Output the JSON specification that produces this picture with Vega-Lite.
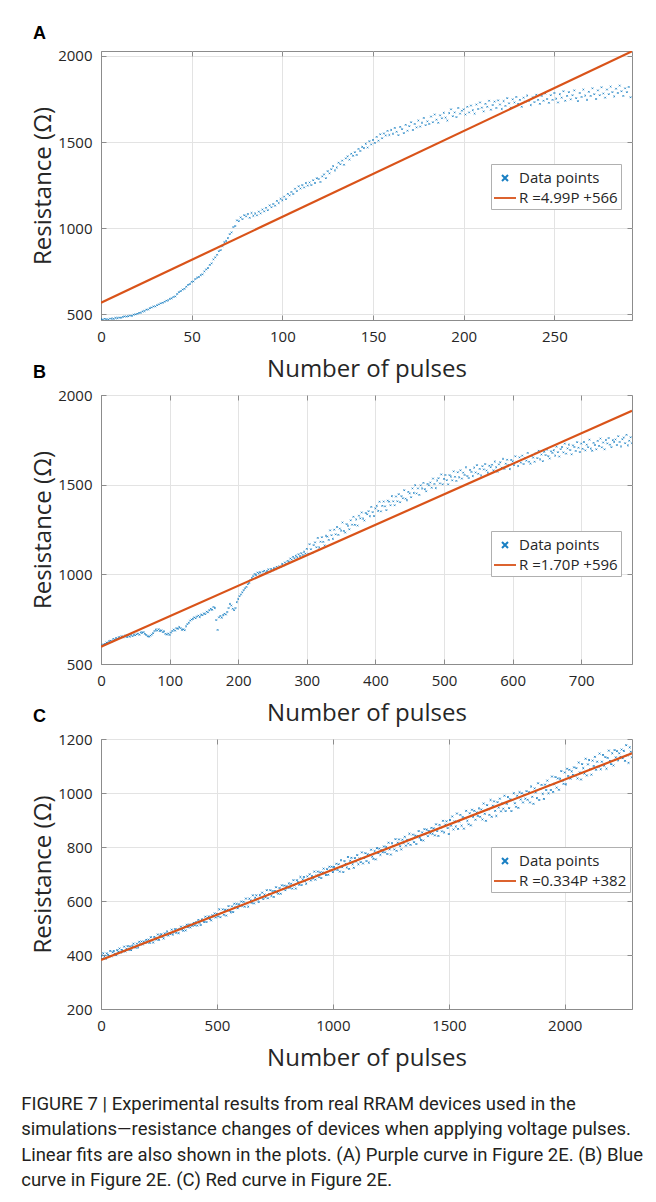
{
  "$schema": "https://vega.github.io/schema/vega-lite/v6.json",
  "background": "white",
  "padding": {"left": 21, "top": 24, "right": 5, "bottom": 5},
  "spacing": 75,
  "bounds": "flush",
  "resolve": {
    "scale": {"color": "independent", "shape": "independent"},
    "legend": {"color": "independent", "shape": "independent"}
  },
  "config": {
    "font": "Open Sans",
    "view": {"stroke": "#8c8c8c", "strokeWidth": 1},
    "axis": {
      "gridColor": "#e3e3e3", "gridWidth": 1,
      "domainColor": "#8c8c8c", "tickColor": "#8c8c8c",
      "labelColor": "#262626", "titleColor": "#262626",
      "labelFont": "Open Sans", "titleFont": "Open Sans",
      "labelFontSize": 15, "titleFontSize": 24, "titleFontWeight": "normal",
      "tickSize": -5, "labelFlush": false, "labelOverlap": false, "format": "d"
    },
    "axisX": {"labelPadding": 14, "titlePadding": 13},
    "axisY": {"labelPadding": 14, "titlePadding": 2},
    "legend": {
      "orient": "none", "fillColor": "white", "strokeColor": "#b0b0b0",
      "padding": 3, "symbolSize": 400, "symbolStrokeWidth": 2,
      "labelFont": "Open Sans", "labelFontSize": 15, "labelColor": "#262626",
      "rowPadding": 1, "labelOffset": 3
    },
    "title": {"font": "Liberation Sans", "fontSize": 18, "fontWeight": "bold", "color": "#000000"}
  },
  "title": {
    "text": [
      "FIGURE 7 | Experimental results from real RRAM devices used in the",
      "simulations—resistance changes of devices when applying voltage pulses.",
      "Linear fits are also shown in the plots. (A) Purple curve in Figure 2E. (B) Blue",
      "curve in Figure 2E. (C) Red curve in Figure 2E."
    ],
    "orient": "bottom", "anchor": "start", "frame": "bounds", "dx": -10,
    "font": "Roboto", "fontSize": 18.5, "fontWeight": "normal",
    "lineHeight": 25.5, "offset": 24, "color": "#231f20"
  },
  "datasets": {
    "a": [
      {"p":0,"r":471},{"p":1,"r":469},{"p":2,"r":473},{"p":3,"r":471},{"p":4,"r":469},{"p":5,"r":474},{"p":6,"r":474},{"p":7,"r":473},{"p":8,"r":478},{"p":9,"r":477},
      {"p":10,"r":480},{"p":11,"r":479},{"p":12,"r":484},{"p":13,"r":487},{"p":14,"r":486},{"p":15,"r":488},{"p":16,"r":492},{"p":17,"r":490},{"p":18,"r":497},{"p":19,"r":499},
      {"p":20,"r":502},{"p":21,"r":507},{"p":22,"r":509},{"p":23,"r":516},{"p":24,"r":518},{"p":25,"r":526},{"p":26,"r":527},{"p":27,"r":535},{"p":28,"r":539},{"p":29,"r":545},
      {"p":30,"r":545},{"p":31,"r":552},{"p":32,"r":557},{"p":33,"r":563},{"p":34,"r":566},{"p":35,"r":572},{"p":36,"r":578},{"p":37,"r":580},{"p":38,"r":589},{"p":39,"r":592},
      {"p":40,"r":600},{"p":41,"r":603},{"p":42,"r":617},{"p":43,"r":628},{"p":44,"r":634},{"p":45,"r":643},{"p":46,"r":647},{"p":47,"r":659},{"p":48,"r":670},{"p":49,"r":675},
      {"p":50,"r":688},{"p":51,"r":690},{"p":52,"r":704},{"p":53,"r":712},{"p":54,"r":716},{"p":55,"r":727},{"p":56,"r":731},{"p":57,"r":748},{"p":58,"r":760},{"p":59,"r":768},
      {"p":60,"r":786},{"p":61,"r":795},{"p":62,"r":818},{"p":63,"r":830},{"p":64,"r":845},{"p":65,"r":866},{"p":66,"r":872},{"p":67,"r":896},{"p":68,"r":918},{"p":69,"r":925},
      {"p":70,"r":942},{"p":71,"r":965},{"p":72,"r":975},{"p":73,"r":1006},{"p":74,"r":1012},{"p":75,"r":1045},{"p":76,"r":1040},{"p":77,"r":1062},{"p":78,"r":1052},{"p":79,"r":1075},
      {"p":80,"r":1068},{"p":81,"r":1082},{"p":82,"r":1060},{"p":83,"r":1088},{"p":84,"r":1071},{"p":85,"r":1085},{"p":86,"r":1074},{"p":87,"r":1096},{"p":88,"r":1085},{"p":89,"r":1108},
      {"p":90,"r":1097},{"p":91,"r":1118},{"p":92,"r":1104},{"p":93,"r":1132},{"p":94,"r":1121},{"p":95,"r":1140},{"p":96,"r":1130},{"p":97,"r":1158},{"p":98,"r":1146},{"p":99,"r":1170},
      {"p":100,"r":1162},{"p":101,"r":1183},{"p":102,"r":1168},{"p":103,"r":1199},{"p":104,"r":1190},{"p":105,"r":1210},{"p":106,"r":1198},{"p":107,"r":1229},{"p":108,"r":1215},{"p":109,"r":1243},
      {"p":110,"r":1230},{"p":111,"r":1250},{"p":112,"r":1236},{"p":113,"r":1262},{"p":114,"r":1247},{"p":115,"r":1265},{"p":116,"r":1250},{"p":117,"r":1278},{"p":118,"r":1262},{"p":119,"r":1290},
      {"p":120,"r":1285},{"p":121,"r":1268},{"p":122,"r":1300},{"p":123,"r":1312},{"p":124,"r":1290},{"p":125,"r":1331},{"p":126,"r":1318},{"p":127,"r":1342},{"p":128,"r":1360},{"p":129,"r":1335},
      {"p":130,"r":1352},{"p":131,"r":1380},{"p":132,"r":1371},{"p":133,"r":1392},{"p":134,"r":1368},{"p":135,"r":1405},{"p":136,"r":1417},{"p":137,"r":1398},{"p":138,"r":1432},{"p":139,"r":1420},
      {"p":140,"r":1441},{"p":141,"r":1425},{"p":142,"r":1460},{"p":143,"r":1448},{"p":144,"r":1472},{"p":145,"r":1465},{"p":146,"r":1490},{"p":147,"r":1468},{"p":148,"r":1505},{"p":149,"r":1486},
      {"p":150,"r":1512},{"p":151,"r":1495},{"p":152,"r":1530},{"p":153,"r":1508},{"p":154,"r":1545},{"p":155,"r":1522},{"p":156,"r":1550},{"p":157,"r":1538},{"p":158,"r":1565},{"p":159,"r":1541},
      {"p":160,"r":1570},{"p":161,"r":1548},{"p":162,"r":1582},{"p":163,"r":1560},{"p":164,"r":1540},{"p":165,"r":1588},{"p":166,"r":1575},{"p":167,"r":1552},{"p":168,"r":1600},{"p":169,"r":1566},
      {"p":170,"r":1592},{"p":171,"r":1615},{"p":172,"r":1570},{"p":173,"r":1605},{"p":174,"r":1585},{"p":175,"r":1625},{"p":176,"r":1590},{"p":177,"r":1612},{"p":178,"r":1640},{"p":179,"r":1598},
      {"p":180,"r":1620},{"p":181,"r":1605},{"p":182,"r":1648},{"p":183,"r":1615},{"p":184,"r":1660},{"p":185,"r":1630},{"p":186,"r":1612},{"p":187,"r":1655},{"p":188,"r":1638},{"p":189,"r":1670},
      {"p":190,"r":1642},{"p":191,"r":1625},{"p":192,"r":1668},{"p":193,"r":1690},{"p":194,"r":1650},{"p":195,"r":1672},{"p":196,"r":1645},{"p":197,"r":1698},{"p":198,"r":1665},{"p":199,"r":1682},
      {"p":200,"r":1690},{"p":201,"r":1660},{"p":202,"r":1705},{"p":203,"r":1672},{"p":204,"r":1712},{"p":205,"r":1685},{"p":206,"r":1665},{"p":207,"r":1718},{"p":208,"r":1692},{"p":209,"r":1730},
      {"p":210,"r":1700},{"p":211,"r":1678},{"p":212,"r":1722},{"p":213,"r":1705},{"p":214,"r":1740},{"p":215,"r":1688},{"p":216,"r":1715},{"p":217,"r":1735},{"p":218,"r":1698},{"p":219,"r":1742},
      {"p":220,"r":1718},{"p":221,"r":1692},{"p":222,"r":1738},{"p":223,"r":1710},{"p":224,"r":1755},{"p":225,"r":1725},{"p":226,"r":1700},{"p":227,"r":1748},{"p":228,"r":1730},{"p":229,"r":1762},
      {"p":230,"r":1722},{"p":231,"r":1745},{"p":232,"r":1705},{"p":233,"r":1758},{"p":234,"r":1735},{"p":235,"r":1770},{"p":236,"r":1740},{"p":237,"r":1715},{"p":238,"r":1760},{"p":239,"r":1732},
      {"p":240,"r":1775},{"p":241,"r":1745},{"p":242,"r":1722},{"p":243,"r":1768},{"p":244,"r":1740},{"p":245,"r":1782},{"p":246,"r":1750},{"p":247,"r":1728},{"p":248,"r":1772},{"p":249,"r":1745},
      {"p":250,"r":1785},{"p":251,"r":1752},{"p":252,"r":1730},{"p":253,"r":1778},{"p":254,"r":1758},{"p":255,"r":1795},{"p":256,"r":1740},{"p":257,"r":1768},{"p":258,"r":1790},{"p":259,"r":1748},
      {"p":260,"r":1772},{"p":261,"r":1800},{"p":262,"r":1755},{"p":263,"r":1738},{"p":264,"r":1785},{"p":265,"r":1762},{"p":266,"r":1805},{"p":267,"r":1770},{"p":268,"r":1745},{"p":269,"r":1792},
      {"p":270,"r":1768},{"p":271,"r":1812},{"p":272,"r":1778},{"p":273,"r":1750},{"p":274,"r":1800},{"p":275,"r":1772},{"p":276,"r":1818},{"p":277,"r":1782},{"p":278,"r":1758},{"p":279,"r":1805},
      {"p":280,"r":1778},{"p":281,"r":1822},{"p":282,"r":1790},{"p":283,"r":1765},{"p":284,"r":1810},{"p":285,"r":1785},{"p":286,"r":1828},{"p":287,"r":1795},{"p":288,"r":1768},{"p":289,"r":1812},
      {"p":290,"r":1790},{"p":291,"r":1820},{"p":292,"r":1760}
    ],
    "b": [
      {"p":0,"r":598},{"p":2,"r":606},{"p":4,"r":610},{"p":6,"r":612},{"p":8,"r":620},{"p":10,"r":618},{"p":12,"r":628},{"p":14,"r":630},{"p":16,"r":626},{"p":18,"r":640},
      {"p":20,"r":636},{"p":22,"r":645},{"p":24,"r":641},{"p":26,"r":650},{"p":28,"r":646},{"p":30,"r":655},{"p":32,"r":648},{"p":34,"r":652},{"p":36,"r":660},{"p":38,"r":650},
      {"p":40,"r":657},{"p":42,"r":652},{"p":44,"r":662},{"p":46,"r":655},{"p":48,"r":664},{"p":50,"r":660},{"p":52,"r":666},{"p":54,"r":670},{"p":56,"r":663},{"p":58,"r":676},
      {"p":60,"r":674},{"p":62,"r":678},{"p":64,"r":668},{"p":66,"r":662},{"p":68,"r":655},{"p":70,"r":652},{"p":72,"r":658},{"p":74,"r":664},{"p":76,"r":672},{"p":78,"r":684},
      {"p":80,"r":692},{"p":82,"r":686},{"p":84,"r":694},{"p":86,"r":684},{"p":88,"r":688},{"p":90,"r":678},{"p":92,"r":682},{"p":94,"r":668},{"p":96,"r":664},{"p":98,"r":670},
      {"p":100,"r":662},{"p":102,"r":675},{"p":104,"r":684},{"p":106,"r":692},{"p":108,"r":686},{"p":110,"r":700},{"p":112,"r":696},{"p":114,"r":706},{"p":116,"r":700},{"p":118,"r":690},
      {"p":120,"r":694},{"p":122,"r":688},{"p":124,"r":710},{"p":126,"r":722},{"p":128,"r":730},{"p":130,"r":742},{"p":132,"r":748},{"p":134,"r":752},{"p":136,"r":760},{"p":138,"r":755},
      {"p":140,"r":765},{"p":142,"r":770},{"p":144,"r":762},{"p":146,"r":775},{"p":148,"r":772},{"p":150,"r":782},{"p":152,"r":778},{"p":154,"r":792},{"p":156,"r":788},{"p":158,"r":800},
      {"p":160,"r":808},{"p":162,"r":802},{"p":164,"r":818},{"p":166,"r":812},{"p":168,"r":745},{"p":170,"r":690},{"p":172,"r":760},{"p":174,"r":768},{"p":176,"r":758},{"p":178,"r":772},
      {"p":180,"r":780},{"p":182,"r":776},{"p":184,"r":790},{"p":186,"r":812},{"p":188,"r":835},{"p":190,"r":826},{"p":192,"r":808},{"p":194,"r":800},{"p":196,"r":812},{"p":198,"r":845},
      {"p":200,"r":862},{"p":202,"r":878},{"p":204,"r":888},{"p":206,"r":900},{"p":208,"r":912},{"p":210,"r":922},{"p":212,"r":930},{"p":214,"r":945},{"p":216,"r":952},{"p":218,"r":968},
      {"p":220,"r":980},{"p":222,"r":990},{"p":224,"r":1002},{"p":226,"r":996},{"p":228,"r":1010},{"p":230,"r":1005},{"p":232,"r":1012},{"p":234,"r":1000},{"p":236,"r":1015},{"p":238,"r":1020},
      {"p":240,"r":1010},{"p":242,"r":1018},{"p":244,"r":1028},{"p":246,"r":1015},{"p":248,"r":1030},{"p":250,"r":1022},{"p":252,"r":1035},{"p":254,"r":1028},{"p":256,"r":1042},{"p":258,"r":1036},
      {"p":260,"r":1045},{"p":262,"r":1040},{"p":264,"r":1058},{"p":266,"r":1050},{"p":268,"r":1066},{"p":270,"r":1060},{"p":272,"r":1075},{"p":274,"r":1070},{"p":276,"r":1088},{"p":278,"r":1082},
      {"p":280,"r":1098},{"p":282,"r":1090},{"p":284,"r":1104},{"p":286,"r":1095},{"p":288,"r":1112},{"p":290,"r":1102},{"p":292,"r":1118},{"p":294,"r":1108},{"p":296,"r":1126},{"p":298,"r":1115},
      {"p":300,"r":1142},{"p":302,"r":1115},{"p":304,"r":1168},{"p":306,"r":1140},{"p":308,"r":1119},{"p":310,"r":1163},{"p":312,"r":1178},{"p":314,"r":1151},{"p":316,"r":1203},{"p":318,"r":1150},
      {"p":320,"r":1182},{"p":322,"r":1207},{"p":324,"r":1181},{"p":326,"r":1161},{"p":328,"r":1215},{"p":330,"r":1210},{"p":332,"r":1192},{"p":334,"r":1245},{"p":336,"r":1218},{"p":338,"r":1198},
      {"p":340,"r":1249},{"p":342,"r":1223},{"p":344,"r":1264},{"p":346,"r":1220},{"p":348,"r":1255},{"p":350,"r":1244},{"p":352,"r":1289},{"p":354,"r":1242},{"p":356,"r":1233},{"p":358,"r":1280},
      {"p":360,"r":1271},{"p":362,"r":1251},{"p":364,"r":1301},{"p":366,"r":1277},{"p":368,"r":1321},{"p":370,"r":1276},{"p":372,"r":1306},{"p":374,"r":1272},{"p":376,"r":1327},{"p":378,"r":1312},
      {"p":380,"r":1345},{"p":382,"r":1311},{"p":384,"r":1300},{"p":386,"r":1342},{"p":388,"r":1335},{"p":390,"r":1352},{"p":392,"r":1324},{"p":394,"r":1376},{"p":396,"r":1347},{"p":398,"r":1325},
      {"p":400,"r":1368},{"p":402,"r":1382},{"p":404,"r":1354},{"p":406,"r":1405},{"p":408,"r":1351},{"p":410,"r":1382},{"p":412,"r":1406},{"p":414,"r":1379},{"p":416,"r":1358},{"p":418,"r":1411},
      {"p":420,"r":1405},{"p":422,"r":1385},{"p":424,"r":1436},{"p":426,"r":1407},{"p":428,"r":1385},{"p":430,"r":1434},{"p":432,"r":1407},{"p":434,"r":1447},{"p":436,"r":1402},{"p":438,"r":1436},
      {"p":440,"r":1424},{"p":442,"r":1469},{"p":444,"r":1422},{"p":446,"r":1413},{"p":448,"r":1460},{"p":450,"r":1451},{"p":452,"r":1430},{"p":454,"r":1479},{"p":456,"r":1454},{"p":458,"r":1497},
      {"p":460,"r":1451},{"p":462,"r":1479},{"p":464,"r":1443},{"p":466,"r":1496},{"p":468,"r":1479},{"p":470,"r":1510},{"p":472,"r":1475},{"p":474,"r":1463},{"p":476,"r":1504},{"p":478,"r":1496},
      {"p":480,"r":1512},{"p":482,"r":1483},{"p":484,"r":1534},{"p":486,"r":1504},{"p":488,"r":1481},{"p":490,"r":1523},{"p":492,"r":1536},{"p":494,"r":1507},{"p":496,"r":1557},{"p":498,"r":1502},
      {"p":500,"r":1532},{"p":502,"r":1554},{"p":504,"r":1525},{"p":506,"r":1502},{"p":508,"r":1553},{"p":510,"r":1545},{"p":512,"r":1524},{"p":514,"r":1574},{"p":516,"r":1544},{"p":518,"r":1521},
      {"p":520,"r":1569},{"p":522,"r":1541},{"p":524,"r":1580},{"p":526,"r":1534},{"p":528,"r":1567},{"p":530,"r":1554},{"p":532,"r":1597},{"p":534,"r":1548},{"p":536,"r":1537},{"p":538,"r":1582},
      {"p":540,"r":1571},{"p":542,"r":1548},{"p":544,"r":1595},{"p":546,"r":1568},{"p":548,"r":1609},{"p":550,"r":1561},{"p":552,"r":1588},{"p":554,"r":1551},{"p":556,"r":1603},{"p":558,"r":1585},
      {"p":560,"r":1615},{"p":562,"r":1579},{"p":564,"r":1566},{"p":566,"r":1606},{"p":568,"r":1597},{"p":570,"r":1611},{"p":572,"r":1580},{"p":574,"r":1629},{"p":576,"r":1597},{"p":578,"r":1572},
      {"p":580,"r":1613},{"p":582,"r":1625},{"p":584,"r":1595},{"p":586,"r":1644},{"p":588,"r":1588},{"p":590,"r":1617},{"p":592,"r":1639},{"p":594,"r":1610},{"p":596,"r":1587},{"p":598,"r":1638},
      {"p":600,"r":1630},{"p":602,"r":1609},{"p":604,"r":1658},{"p":606,"r":1628},{"p":608,"r":1604},{"p":610,"r":1652},{"p":612,"r":1623},{"p":614,"r":1662},{"p":616,"r":1615},{"p":618,"r":1648},
      {"p":620,"r":1634},{"p":622,"r":1677},{"p":624,"r":1628},{"p":626,"r":1617},{"p":628,"r":1662},{"p":630,"r":1651},{"p":632,"r":1628},{"p":634,"r":1675},{"p":636,"r":1648},{"p":638,"r":1689},
      {"p":640,"r":1641},{"p":642,"r":1668},{"p":644,"r":1631},{"p":646,"r":1683},{"p":648,"r":1665},{"p":650,"r":1695},{"p":652,"r":1659},{"p":654,"r":1646},{"p":656,"r":1686},{"p":658,"r":1677},
      {"p":660,"r":1692},{"p":662,"r":1662},{"p":664,"r":1712},{"p":666,"r":1681},{"p":668,"r":1657},{"p":670,"r":1698},{"p":672,"r":1710},{"p":674,"r":1680},{"p":676,"r":1729},{"p":678,"r":1673},
      {"p":680,"r":1702},{"p":682,"r":1723},{"p":684,"r":1693},{"p":686,"r":1669},{"p":688,"r":1719},{"p":690,"r":1710},{"p":692,"r":1688},{"p":694,"r":1737},{"p":696,"r":1706},{"p":698,"r":1682},
      {"p":700,"r":1729},{"p":702,"r":1700},{"p":704,"r":1738},{"p":706,"r":1691},{"p":708,"r":1723},{"p":710,"r":1709},{"p":712,"r":1751},{"p":714,"r":1701},{"p":716,"r":1689},{"p":718,"r":1733},
      {"p":720,"r":1721},{"p":722,"r":1697},{"p":724,"r":1744},{"p":726,"r":1716},{"p":728,"r":1757},{"p":730,"r":1708},{"p":732,"r":1735},{"p":734,"r":1697},{"p":736,"r":1749},{"p":738,"r":1730},
      {"p":740,"r":1760},{"p":742,"r":1723},{"p":744,"r":1709},{"p":746,"r":1748},{"p":748,"r":1738},{"p":750,"r":1752},{"p":752,"r":1721},{"p":754,"r":1770},{"p":756,"r":1738},{"p":758,"r":1713},
      {"p":760,"r":1753},{"p":762,"r":1763},{"p":764,"r":1731},{"p":766,"r":1778},{"p":768,"r":1719},{"p":770,"r":1745},{"p":772,"r":1764},{"p":774,"r":1731}
    ],
    "c": [
      {"p":0,"r":397},{"p":5,"r":385},{"p":10,"r":406},{"p":15,"r":394},{"p":20,"r":386},{"p":25,"r":406},{"p":30,"r":401},{"p":35,"r":396},{"p":40,"r":415},{"p":45,"r":395},
      {"p":50,"r":410},{"p":55,"r":415},{"p":60,"r":405},{"p":65,"r":399},{"p":70,"r":418},{"p":75,"r":412},{"p":80,"r":424},{"p":85,"r":409},{"p":90,"r":419},{"p":95,"r":414},
      {"p":100,"r":431},{"p":105,"r":413},{"p":110,"r":423},{"p":115,"r":433},{"p":120,"r":419},{"p":125,"r":432},{"p":130,"r":418},{"p":135,"r":433},{"p":140,"r":442},{"p":145,"r":431},
      {"p":150,"r":427},{"p":155,"r":442},{"p":160,"r":428},{"p":165,"r":449},{"p":170,"r":440},{"p":175,"r":450},{"p":180,"r":439},{"p":185,"r":449},{"p":190,"r":445},{"p":195,"r":456},
      {"p":200,"r":446},{"p":205,"r":457},{"p":210,"r":445},{"p":215,"r":466},{"p":220,"r":454},{"p":225,"r":446},{"p":230,"r":467},{"p":235,"r":462},{"p":240,"r":457},{"p":245,"r":476},
      {"p":250,"r":456},{"p":255,"r":472},{"p":260,"r":477},{"p":265,"r":467},{"p":270,"r":461},{"p":275,"r":480},{"p":280,"r":475},{"p":285,"r":487},{"p":290,"r":472},{"p":295,"r":482},
      {"p":300,"r":477},{"p":305,"r":494},{"p":310,"r":476},{"p":315,"r":486},{"p":320,"r":496},{"p":325,"r":482},{"p":330,"r":495},{"p":335,"r":481},{"p":340,"r":496},{"p":345,"r":505},
      {"p":350,"r":494},{"p":355,"r":490},{"p":360,"r":505},{"p":365,"r":491},{"p":370,"r":512},{"p":375,"r":503},{"p":380,"r":513},{"p":385,"r":502},{"p":390,"r":512},{"p":395,"r":508},
      {"p":400,"r":519},{"p":405,"r":510},{"p":410,"r":521},{"p":415,"r":509},{"p":420,"r":530},{"p":425,"r":519},{"p":430,"r":511},{"p":435,"r":532},{"p":440,"r":527},{"p":445,"r":522},
      {"p":450,"r":542},{"p":455,"r":522},{"p":460,"r":538},{"p":465,"r":543},{"p":470,"r":533},{"p":475,"r":528},{"p":480,"r":547},{"p":485,"r":542},{"p":490,"r":554},{"p":495,"r":539},
      {"p":500,"r":552},{"p":505,"r":543},{"p":510,"r":569},{"p":515,"r":540},{"p":520,"r":555},{"p":525,"r":569},{"p":530,"r":549},{"p":535,"r":567},{"p":540,"r":546},{"p":545,"r":568},
      {"p":550,"r":581},{"p":555,"r":563},{"p":560,"r":558},{"p":565,"r":580},{"p":570,"r":559},{"p":575,"r":590},{"p":580,"r":577},{"p":585,"r":589},{"p":590,"r":573},{"p":595,"r":588},
      {"p":600,"r":582},{"p":605,"r":598},{"p":610,"r":582},{"p":615,"r":597},{"p":620,"r":579},{"p":625,"r":609},{"p":630,"r":591},{"p":635,"r":579},{"p":640,"r":609},{"p":645,"r":602},
      {"p":650,"r":593},{"p":655,"r":621},{"p":660,"r":591},{"p":665,"r":612},{"p":670,"r":621},{"p":675,"r":605},{"p":680,"r":596},{"p":685,"r":622},{"p":690,"r":613},{"p":695,"r":631},
      {"p":700,"r":607},{"p":705,"r":624},{"p":710,"r":614},{"p":715,"r":640},{"p":720,"r":610},{"p":725,"r":626},{"p":730,"r":640},{"p":735,"r":619},{"p":740,"r":637},{"p":745,"r":615},
      {"p":750,"r":637},{"p":755,"r":651},{"p":760,"r":632},{"p":765,"r":627},{"p":770,"r":648},{"p":775,"r":627},{"p":780,"r":658},{"p":785,"r":644},{"p":790,"r":657},{"p":795,"r":640},
      {"p":800,"r":655},{"p":805,"r":649},{"p":810,"r":665},{"p":815,"r":649},{"p":820,"r":664},{"p":825,"r":646},{"p":830,"r":677},{"p":835,"r":658},{"p":840,"r":646},{"p":845,"r":677},
      {"p":850,"r":670},{"p":855,"r":660},{"p":860,"r":689},{"p":865,"r":659},{"p":870,"r":680},{"p":875,"r":689},{"p":880,"r":673},{"p":885,"r":664},{"p":890,"r":691},{"p":895,"r":681},
      {"p":900,"r":699},{"p":905,"r":676},{"p":910,"r":692},{"p":915,"r":683},{"p":920,"r":709},{"p":925,"r":679},{"p":930,"r":695},{"p":935,"r":709},{"p":940,"r":688},{"p":945,"r":706},
      {"p":950,"r":685},{"p":955,"r":706},{"p":960,"r":720},{"p":965,"r":702},{"p":970,"r":696},{"p":975,"r":718},{"p":980,"r":697},{"p":985,"r":727},{"p":990,"r":714},{"p":995,"r":727},
      {"p":1000,"r":707},{"p":1005,"r":726},{"p":1010,"r":717},{"p":1015,"r":738},{"p":1020,"r":715},{"p":1025,"r":736},{"p":1030,"r":709},{"p":1035,"r":751},{"p":1040,"r":725},{"p":1045,"r":707},
      {"p":1050,"r":748},{"p":1055,"r":738},{"p":1060,"r":724},{"p":1065,"r":763},{"p":1070,"r":719},{"p":1075,"r":749},{"p":1080,"r":760},{"p":1085,"r":736},{"p":1090,"r":723},{"p":1095,"r":759},
      {"p":1100,"r":746},{"p":1105,"r":770},{"p":1110,"r":736},{"p":1115,"r":758},{"p":1120,"r":744},{"p":1125,"r":780},{"p":1130,"r":739},{"p":1135,"r":759},{"p":1140,"r":777},{"p":1145,"r":748},
      {"p":1150,"r":773},{"p":1155,"r":742},{"p":1160,"r":771},{"p":1165,"r":790},{"p":1170,"r":764},{"p":1175,"r":756},{"p":1180,"r":785},{"p":1185,"r":754},{"p":1190,"r":796},{"p":1195,"r":777},
      {"p":1200,"r":794},{"p":1205,"r":771},{"p":1210,"r":789},{"p":1215,"r":781},{"p":1220,"r":802},{"p":1225,"r":780},{"p":1230,"r":800},{"p":1235,"r":774},{"p":1240,"r":816},{"p":1245,"r":791},
      {"p":1250,"r":772},{"p":1255,"r":814},{"p":1260,"r":804},{"p":1265,"r":791},{"p":1270,"r":829},{"p":1275,"r":786},{"p":1280,"r":816},{"p":1285,"r":828},{"p":1290,"r":803},{"p":1295,"r":791},
      {"p":1300,"r":827},{"p":1305,"r":815},{"p":1310,"r":838},{"p":1315,"r":805},{"p":1320,"r":827},{"p":1325,"r":813},{"p":1330,"r":849},{"p":1335,"r":808},{"p":1340,"r":828},{"p":1345,"r":846},
      {"p":1350,"r":818},{"p":1355,"r":842},{"p":1360,"r":811},{"p":1365,"r":841},{"p":1370,"r":859},{"p":1375,"r":834},{"p":1380,"r":826},{"p":1385,"r":854},{"p":1390,"r":824},{"p":1395,"r":866},
      {"p":1400,"r":847},{"p":1405,"r":864},{"p":1410,"r":840},{"p":1415,"r":859},{"p":1420,"r":850},{"p":1425,"r":871},{"p":1430,"r":849},{"p":1435,"r":869},{"p":1440,"r":843},{"p":1445,"r":884},
      {"p":1450,"r":859},{"p":1455,"r":841},{"p":1460,"r":882},{"p":1465,"r":872},{"p":1470,"r":858},{"p":1475,"r":897},{"p":1480,"r":854},{"p":1485,"r":883},{"p":1490,"r":895},{"p":1495,"r":870},
      {"p":1500,"r":848},{"p":1505,"r":900},{"p":1510,"r":879},{"p":1515,"r":913},{"p":1520,"r":865},{"p":1525,"r":895},{"p":1530,"r":876},{"p":1535,"r":924},{"p":1540,"r":867},{"p":1545,"r":894},
      {"p":1550,"r":919},{"p":1555,"r":879},{"p":1560,"r":911},{"p":1565,"r":868},{"p":1570,"r":907},{"p":1575,"r":934},{"p":1580,"r":897},{"p":1585,"r":884},{"p":1590,"r":925},{"p":1595,"r":880},
      {"p":1600,"r":938},{"p":1605,"r":912},{"p":1610,"r":934},{"p":1615,"r":901},{"p":1620,"r":928},{"p":1625,"r":915},{"p":1630,"r":943},{"p":1635,"r":912},{"p":1640,"r":939},{"p":1645,"r":902},
      {"p":1650,"r":961},{"p":1655,"r":923},{"p":1660,"r":897},{"p":1665,"r":955},{"p":1670,"r":939},{"p":1675,"r":919},{"p":1680,"r":974},{"p":1685,"r":912},{"p":1690,"r":953},{"p":1695,"r":969},
      {"p":1700,"r":934},{"p":1705,"r":915},{"p":1710,"r":966},{"p":1715,"r":946},{"p":1720,"r":979},{"p":1725,"r":932},{"p":1730,"r":961},{"p":1735,"r":942},{"p":1740,"r":990},{"p":1745,"r":933},
      {"p":1750,"r":960},{"p":1755,"r":985},{"p":1760,"r":944},{"p":1765,"r":977},{"p":1770,"r":933},{"p":1775,"r":973},{"p":1780,"r":999},{"p":1785,"r":962},{"p":1790,"r":949},{"p":1795,"r":990},
      {"p":1800,"r":945},{"p":1805,"r":1003},{"p":1810,"r":976},{"p":1815,"r":999},{"p":1820,"r":965},{"p":1825,"r":992},{"p":1830,"r":979},{"p":1835,"r":1007},{"p":1840,"r":975},{"p":1845,"r":1003},
      {"p":1850,"r":965},{"p":1855,"r":1024},{"p":1860,"r":986},{"p":1865,"r":960},{"p":1870,"r":1017},{"p":1875,"r":1002},{"p":1880,"r":981},{"p":1885,"r":1036},{"p":1890,"r":974},{"p":1895,"r":1015},
      {"p":1900,"r":1030},{"p":1905,"r":997},{"p":1910,"r":978},{"p":1915,"r":1031},{"p":1920,"r":1011},{"p":1925,"r":1046},{"p":1930,"r":999},{"p":1935,"r":1030},{"p":1940,"r":1011},{"p":1945,"r":1061},
      {"p":1950,"r":1004},{"p":1955,"r":1033},{"p":1960,"r":1059},{"p":1965,"r":1020},{"p":1970,"r":1054},{"p":1975,"r":1012},{"p":1980,"r":1053},{"p":1985,"r":1081},{"p":1990,"r":1045},{"p":1995,"r":1034},
      {"p":2000,"r":1076},{"p":2005,"r":1032},{"p":2010,"r":1090},{"p":2015,"r":1063},{"p":2020,"r":1086},{"p":2025,"r":1053},{"p":2030,"r":1080},{"p":2035,"r":1067},{"p":2040,"r":1095},{"p":2045,"r":1064},
      {"p":2050,"r":1092},{"p":2055,"r":1054},{"p":2060,"r":1113},{"p":2065,"r":1076},{"p":2070,"r":1050},{"p":2075,"r":1107},{"p":2080,"r":1092},{"p":2085,"r":1072},{"p":2090,"r":1127},{"p":2095,"r":1065},
      {"p":2100,"r":1106},{"p":2105,"r":1122},{"p":2110,"r":1088},{"p":2115,"r":1068},{"p":2120,"r":1120},{"p":2125,"r":1100},{"p":2130,"r":1134},{"p":2135,"r":1086},{"p":2140,"r":1116},{"p":2145,"r":1097},
      {"p":2150,"r":1146},{"p":2155,"r":1088},{"p":2160,"r":1116},{"p":2165,"r":1141},{"p":2170,"r":1101},{"p":2175,"r":1133},{"p":2180,"r":1090},{"p":2185,"r":1130},{"p":2190,"r":1157},{"p":2195,"r":1119},
      {"p":2200,"r":1107},{"p":2205,"r":1147},{"p":2210,"r":1102},{"p":2215,"r":1159},{"p":2220,"r":1132},{"p":2225,"r":1155},{"p":2230,"r":1121},{"p":2235,"r":1147},{"p":2240,"r":1134},{"p":2245,"r":1161},
      {"p":2250,"r":1129},{"p":2255,"r":1156},{"p":2260,"r":1119},{"p":2265,"r":1177},{"p":2270,"r":1139},{"p":2275,"r":1112},{"p":2280,"r":1169},{"p":2285,"r":1153},{"p":2290,"r":1132}
    ]
  },
  "vconcat": [
    {
      "title": {"text": "A", "anchor": "start", "frame": "group", "dx": -68, "offset": 6},
      "width": 531, "height": 269,
      "resolve": {"axis": {"x": "independent", "y": "independent"}},
      "layer": [
        {
          "data": {"name": "a"},
          "mark": {"type": "point", "filled": false, "size": 30, "strokeWidth": 0.8, "opacity": 0.9, "clip": true},
          "encoding": {
            "x": {"field": "p", "type": "quantitative", "scale": {"domain": [0, 292.8], "nice": false, "zero": false},
                  "axis": {"values": [0, 50, 100, 150, 200, 250], "grid": true, "title": "Number of pulses"}},
            "y": {"field": "r", "type": "quantitative", "scale": {"domain": [466, 2029], "nice": false, "zero": false},
                  "axis": {"values": [500, 1000, 1500, 2000], "grid": true, "title": "Resistance (Ω)"}},
            "color": {"datum": "Data points", "type": "nominal",
                      "scale": {"domain": ["Data points", "R =4.99P +566"], "range": ["#0072bd", "#d95319"]},
                      "legend": {"title": null, "legendX": 390, "legendY": 113}},
            "shape": {"datum": "Data points", "type": "nominal",
                      "scale": {"domain": ["Data points", "R =4.99P +566"], "range": ["M-0.3,-0.3L0.3,0.3M-0.3,0.3L0.3,-0.3", "M-1.1,0L1.1,0"]},
                      "legend": {"title": null, "legendX": 390, "legendY": 113}}
          }
        },
        {
          "data": {"values": [{"p": 0, "r": 566}, {"p": 293, "r": 2028.1}]},
          "mark": {"type": "line", "strokeWidth": 2.2, "clip": true},
          "encoding": {
            "x": {"field": "p", "type": "quantitative", "axis": {"orient": "top", "values": [0, 50, 100, 150, 200, 250], "labels": false, "grid": false, "title": null, "domain": false}},
            "y": {"field": "r", "type": "quantitative", "axis": {"orient": "right", "values": [500, 1000, 1500, 2000], "labels": false, "grid": false, "title": null, "domain": false}},
            "color": {"datum": "R =4.99P +566", "type": "nominal"}
          }
        }
      ]
    },
    {
      "title": {"text": "B", "anchor": "start", "frame": "group", "dx": -68, "offset": 6},
      "width": 531, "height": 269,
      "resolve": {"axis": {"x": "independent", "y": "independent"}},
      "layer": [
        {
          "data": {"name": "b"},
          "mark": {"type": "point", "filled": false, "size": 30, "strokeWidth": 0.8, "opacity": 0.9, "clip": true},
          "encoding": {
            "x": {"field": "p", "type": "quantitative", "scale": {"domain": [0, 774], "nice": false, "zero": false},
                  "axis": {"values": [0, 100, 200, 300, 400, 500, 600, 700], "grid": true, "title": "Number of pulses"}},
            "y": {"field": "r", "type": "quantitative", "scale": {"domain": [500, 2000], "nice": false, "zero": false},
                  "axis": {"values": [500, 1000, 1500, 2000], "grid": true, "title": "Resistance (Ω)"}},
            "color": {"datum": "Data points", "type": "nominal",
                      "scale": {"domain": ["Data points", "R =1.70P +596"], "range": ["#0072bd", "#d95319"]},
                      "legend": {"title": null, "legendX": 390, "legendY": 136}},
            "shape": {"datum": "Data points", "type": "nominal",
                      "scale": {"domain": ["Data points", "R =1.70P +596"], "range": ["M-0.3,-0.3L0.3,0.3M-0.3,0.3L0.3,-0.3", "M-1.1,0L1.1,0"]},
                      "legend": {"title": null, "legendX": 390, "legendY": 136}}
          }
        },
        {
          "data": {"values": [{"p": 0, "r": 596}, {"p": 774, "r": 1911.8}]},
          "mark": {"type": "line", "strokeWidth": 2.2, "clip": true},
          "encoding": {
            "x": {"field": "p", "type": "quantitative", "axis": {"orient": "top", "values": [0, 100, 200, 300, 400, 500, 600, 700], "labels": false, "grid": false, "title": null, "domain": false}},
            "y": {"field": "r", "type": "quantitative", "axis": {"orient": "right", "values": [500, 1000, 1500, 2000], "labels": false, "grid": false, "title": null, "domain": false}},
            "color": {"datum": "R =1.70P +596", "type": "nominal"}
          }
        }
      ]
    },
    {
      "title": {"text": "C", "anchor": "start", "frame": "group", "dx": -68, "offset": 6},
      "width": 531, "height": 270,
      "resolve": {"axis": {"x": "independent", "y": "independent"}},
      "layer": [
        {
          "data": {"name": "c"},
          "mark": {"type": "point", "filled": false, "size": 36, "strokeWidth": 0.9, "opacity": 0.9, "clip": true},
          "encoding": {
            "x": {"field": "p", "type": "quantitative", "scale": {"domain": [0, 2290], "nice": false, "zero": false},
                  "axis": {"values": [0, 500, 1000, 1500, 2000], "grid": true, "title": "Number of pulses"}},
            "y": {"field": "r", "type": "quantitative", "scale": {"domain": [200, 1200], "nice": false, "zero": false},
                  "axis": {"values": [200, 400, 600, 800, 1000, 1200], "grid": true, "title": "Resistance (Ω)"}},
            "color": {"datum": "Data points", "type": "nominal",
                      "scale": {"domain": ["Data points", "R =0.334P +382"], "range": ["#0072bd", "#d95319"]},
                      "legend": {"title": null, "legendX": 390, "legendY": 108}},
            "shape": {"datum": "Data points", "type": "nominal",
                      "scale": {"domain": ["Data points", "R =0.334P +382"], "range": ["M-0.3,-0.3L0.3,0.3M-0.3,0.3L0.3,-0.3", "M-1.1,0L1.1,0"]},
                      "legend": {"title": null, "legendX": 390, "legendY": 108}}
          }
        },
        {
          "data": {"values": [{"p": 0, "r": 382}, {"p": 2290, "r": 1146.86}]},
          "mark": {"type": "line", "strokeWidth": 2.2, "clip": true},
          "encoding": {
            "x": {"field": "p", "type": "quantitative", "axis": {"orient": "top", "values": [0, 500, 1000, 1500, 2000], "labels": false, "grid": false, "title": null, "domain": false}},
            "y": {"field": "r", "type": "quantitative", "axis": {"orient": "right", "values": [200, 400, 600, 800, 1000, 1200], "labels": false, "grid": false, "title": null, "domain": false}},
            "color": {"datum": "R =0.334P +382", "type": "nominal"}
          }
        }
      ]
    }
  ]
}
